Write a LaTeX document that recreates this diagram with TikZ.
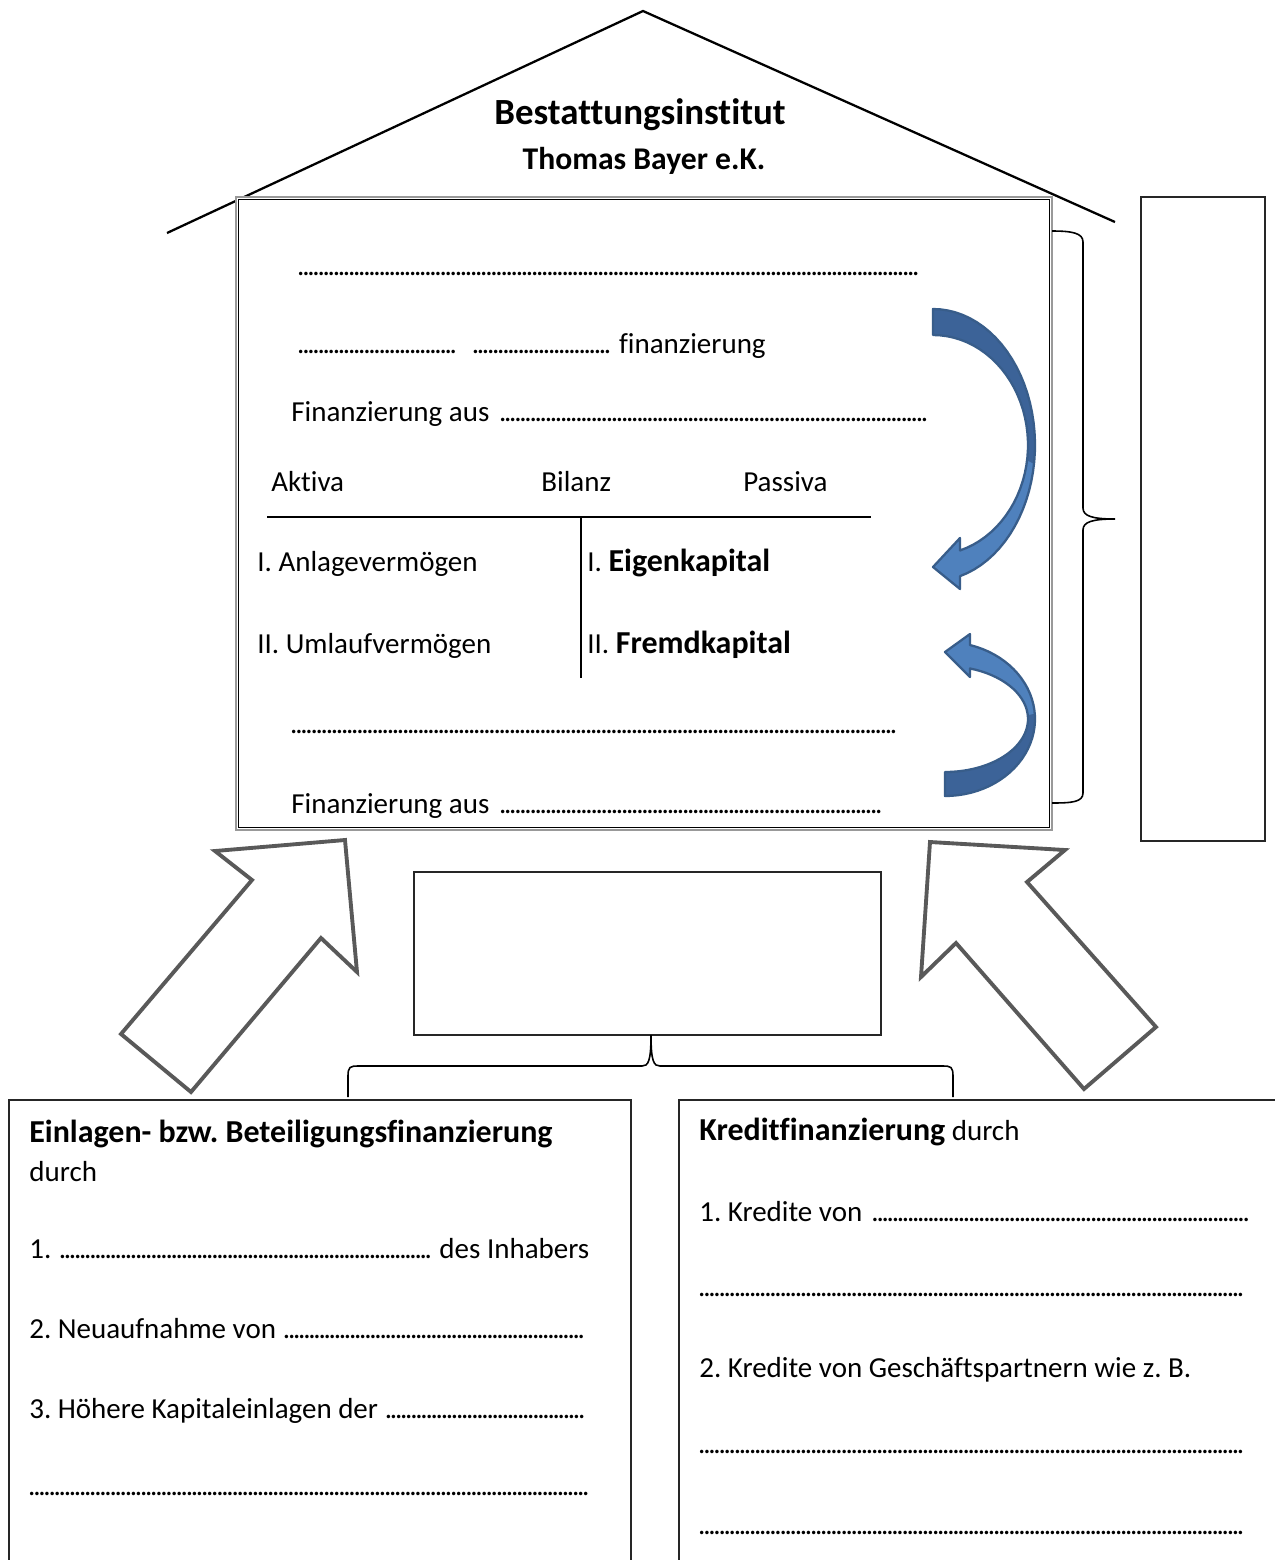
\documentclass[tikz,border=0pt]{standalone}
\usepackage{fontspec}
\setmainfont{Carlito}[Ligatures=NoCommon]
\frenchspacing
\definecolor{ArrowBlue}{RGB}{79,129,189}
\definecolor{ArrowBlueDark}{RGB}{60,99,152}
\definecolor{ArrowEdge}{RGB}{56,93,138}
\definecolor{BlockGray}{RGB}{89,89,89}
\newcommand{\punkte}{\leaders\hbox to 2.9pt{\hss.\hss}\hfill}
\newcommand{\zeile}[2]{\makebox[#1][l]{#2}}
\newcommand{\gross}[1]{{\fontsize{18.2}{20}\selectfont\bfseries #1}}

\begin{document}
\begin{tikzpicture}[x=0.02cm, y=-0.02cm,
    txt/.style={anchor=base west, inner sep=0pt, font=\fontsize{16.5}{20}\selectfont},
    frame/.style={draw=black!85, line width=0.6pt},
    blockarrow/.style={draw=BlockGray, line width=2.2pt, fill=white, line join=miter},
    curlarrow/.style={draw=ArrowEdge, line width=1.3pt, line join=round}]
  \useasboundingbox (0,0) rectangle (1275,1560);
  \clip (0,0) rectangle (1275,1560);
  % Roof and name of the firm
  \draw[line width=1.3pt] (167,233) -- (643,11) -- (1115,222);
  \node[anchor=base, font=\fontsize{21}{25}\selectfont\bfseries] (firma) at (640,124) {Bestattungsinstitut};
  \node[anchor=base, font=\fontsize{18}{22}\selectfont\bfseries] (inhaber) at (644,169) {Thomas Bayer e.K.};
  % House body
  \draw[gray!80, fill=white, line width=0.9pt] (236,197) rectangle (1052,830);
  \draw[black, line width=0.4pt] (238.5,199.5) rectangle (1049.5,827.5);
  \node[txt] (z1) at (298,275) {\zeile{12.5cm}{\punkte}};
  \node[txt] (z2) at (298,353) {\zeile{3.2cm}{\punkte}\hspace{0.3cm}\zeile{2.8cm}{\punkte} finanzierung};
  \node[txt] (z3) at (291,421) {\zeile{12.8cm}{Finanzierung aus \punkte}};
  \node[txt] (aktiva) at (271,491) {Aktiva};
  \node[txt] (bilanz) at (541,491) {Bilanz};
  \node[txt] (passiva) at (743,491) {Passiva};
  % T-account
  \coordinate (tl) at (267,517);
  \coordinate (tr) at (871,517);
  \coordinate (tm) at (581,517);
  \coordinate (tb) at (581,678);
  \draw[line width=1.3pt] (tl) -- (tr);
  \draw[line width=1.3pt] (tm) -- (tb);
  \node[txt] (av) at (257,571) {I. Anlagevermögen};
  \node[txt] (uv) at (257,653) {II. Umlaufvermögen};
  \node[txt] (ek) at (587,571) {I. \gross{Eigenkapital}};
  \node[txt] (fk) at (587,653) {II. \gross{Fremdkapital}};
  \node[txt] (z4) at (291,733) {\zeile{12.16cm}{\punkte}};
  \node[txt] (z5) at (291,813) {\zeile{11.84cm}{Finanzierung aus \punkte}};
  % Upper curved arrow (to Eigenkapital)
  \fill[ArrowBlue] (933,309) -- plot[domain=-90:74.6, samples=40] ({933+102*cos(\x)},{445+136*sin(\x)})
    -- (960,589) -- (933,567) -- (960,538)
    -- plot[domain=73.5:-90, samples=40] ({933+95*cos(\x)},{445+110*sin(\x)}) -- cycle;
  \fill[ArrowBlueDark] (933,309) -- plot[domain=-90:8, samples=30] ({933+102*cos(\x)},{445+136*sin(\x)})
    -- plot[domain=8:-90, samples=30] ({933+95*cos(\x)},{445+110*sin(\x)}) -- cycle;
  \draw[curlarrow] (933,309) -- plot[domain=-90:74.6, samples=40] ({933+102*cos(\x)},{445+136*sin(\x)})
    -- (960,589) -- (933,567) -- (960,538)
    -- plot[domain=73.5:-90, samples=40] ({933+95*cos(\x)},{445+110*sin(\x)}) -- cycle;
  % Lower curved arrow (to Fremdkapital)
  \fill[ArrowBlue] (945,796) -- plot[domain=90:-73.9, samples=40] ({945+90*cos(\x)},{719+77*sin(\x)})
    -- (970,634) -- (945,652) -- (970,677)
    -- plot[domain=-72.5:90, samples=40] ({945+83*cos(\x)},{719+53*sin(\x)}) -- cycle;
  \fill[ArrowBlueDark] (945,796) -- plot[domain=90:-4, samples=30] ({945+90*cos(\x)},{719+77*sin(\x)})
    -- plot[domain=-4:90, samples=30] ({945+83*cos(\x)},{719+53*sin(\x)}) -- cycle;
  \draw[curlarrow] (945,796) -- plot[domain=90:-73.9, samples=40] ({945+90*cos(\x)},{719+77*sin(\x)})
    -- (970,634) -- (945,652) -- (970,677)
    -- plot[domain=-72.5:90, samples=40] ({945+83*cos(\x)},{719+53*sin(\x)}) -- cycle;
  % Brace and empty box on the right
  \draw[line width=0.9pt] (1052,231) .. controls (1072,231) and (1083,233) .. (1083,242) -- (1083,508)
    .. controls (1083,516) and (1092,519) .. (1115,519)
    .. controls (1092,519) and (1083,522) .. (1083,530) -- (1083,793)
    .. controls (1083,802) and (1072,803) .. (1052,803);
  \draw[frame] (1141,197) rectangle (1265,841);
  % Block arrows into the house
  \draw[blockarrow] (121,1034) -- (252,880) -- (215,851) -- (345,840) -- (357,972) -- (321,938) -- (191,1092) -- cycle;
  \draw[blockarrow] (1156,1027) -- (1027,882) -- (1065,850) -- (930,842) -- (921,977) -- (956,943) -- (1084,1089) -- cycle;
  % Middle box with brace below
  \draw[frame] (414,872) rectangle (881,1035);
  \draw[line width=0.9pt] (348,1097) -- (348,1076) .. controls (348,1067) and (350,1066) .. (358,1066) -- (642,1066)
    .. controls (648,1066) and (651,1062) .. (651,1035)
    .. controls (651,1062) and (654,1066) .. (660,1066) -- (943,1066)
    .. controls (951,1066) and (953,1067) .. (953,1076) -- (953,1097);
  % Bottom boxes
  \draw[frame] (9,1100) rectangle (631,1600);
  \draw[frame] (679,1100) rectangle (1300,1600);
  \node[txt] (ein) at (29,1142) {\gross{Einlagen- bzw. Beteiligungsfinanzierung}};
  \node[txt] (durch) at (29,1181) {durch};
  \node[txt] (e1) at (29,1258) {\zeile{11.22cm}{1. \punkte{} des Inhabers}};
  \node[txt] (e2) at (29,1338) {\zeile{11.12cm}{2. Neuaufnahme von \punkte}};
  \node[txt] (e3) at (29,1418) {\zeile{11.18cm}{3. Höhere Kapitaleinlagen der \punkte}};
  \node[txt] (e4) at (29,1495) {\zeile{11.24cm}{\punkte}};
  \node[txt] (kredit) at (699,1140) {\gross{Kreditfinanzierung} durch};
  \node[txt] (k1) at (699,1221) {\zeile{11.02cm}{1. Kredite von \punkte}};
  \node[txt] (k2) at (699,1296) {\zeile{11cm}{\punkte}};
  \node[txt] (k3) at (699,1377) {2. Kredite von Geschäftspartnern wie z. B.};
  \node[txt] (k4) at (699,1453) {\zeile{10.94cm}{\punkte}};
  \node[txt] (k5) at (699,1534) {\zeile{10.94cm}{\punkte}};
\end{tikzpicture}
\end{document}
